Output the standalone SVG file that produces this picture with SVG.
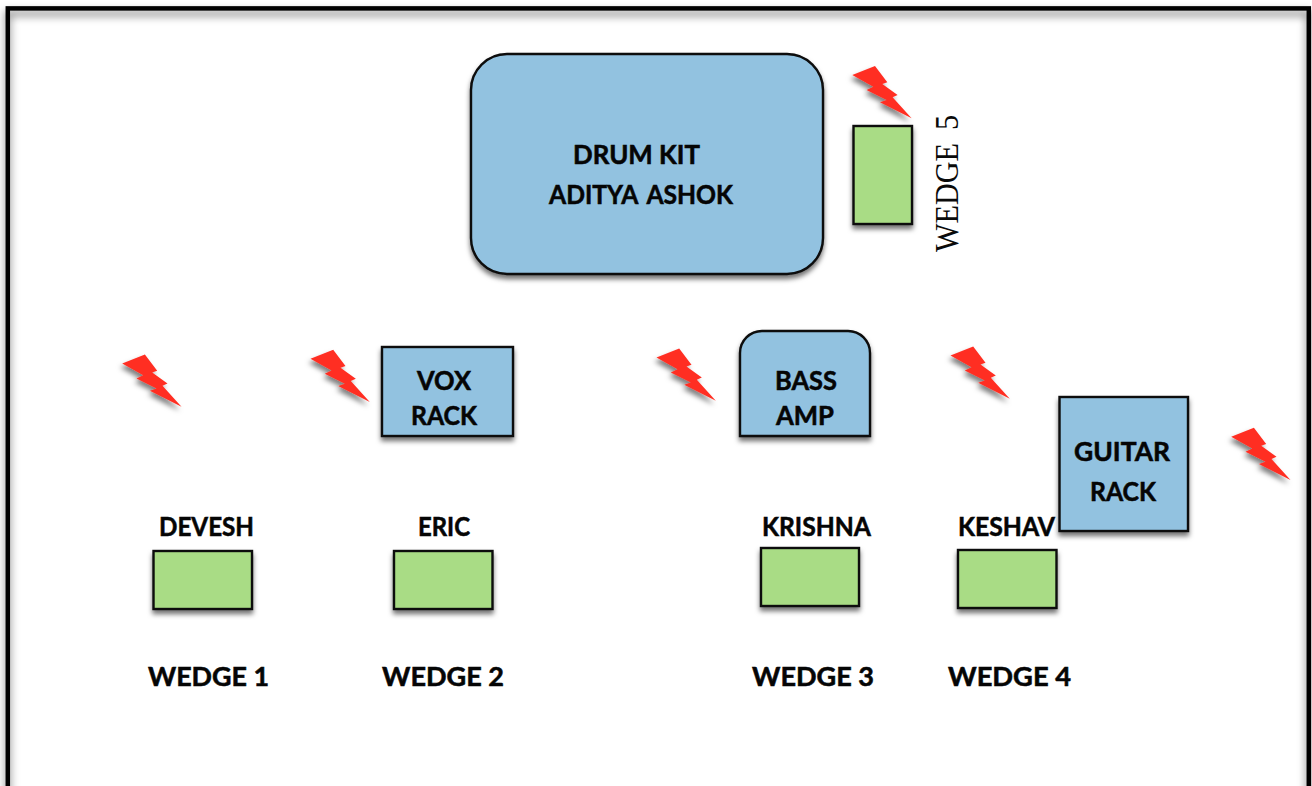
<svg xmlns="http://www.w3.org/2000/svg" width="1312" height="786" viewBox="0 0 1312 786">
<style>
.blue{fill:#92c2e0;stroke:#0a0a0a;stroke-width:2.4}
.green{fill:#a9dc85;stroke:#0a0a0a;stroke-width:2.4}
.t{font-family:"Lato","Liberation Sans",sans-serif;font-weight:700;font-size:26.5px;fill:#050505;stroke:#050505;stroke-width:0.55}
.s{font-family:"Liberation Serif",serif;font-size:33px;fill:#0a0a0a}
.bolt{fill:#ff2f24}
.frame{fill:none;stroke:#050505;stroke-width:4.5}
</style>
<defs>
<filter id="sh" x="-30%" y="-30%" width="160%" height="170%"><feDropShadow dx="0" dy="4" stdDeviation="2.5" flood-color="#000" flood-opacity="0.55"/></filter>
<filter id="shb" x="-30%" y="-30%" width="160%" height="170%"><feDropShadow dx="-2" dy="4" stdDeviation="2.5" flood-color="#000" flood-opacity="0.5"/></filter>
<filter id="shf" filterUnits="userSpaceOnUse" x="0" y="0" width="1312" height="900"><feDropShadow dx="0" dy="5" stdDeviation="4" flood-color="#000" flood-opacity="0.55"/></filter>
<polygon id="b" class="bolt" points="0,0 22.7,-9 35,7.3 30,9 45.3,20 40.3,22.3 59.3,43.3 27.7,27.3 34.3,25 14.3,15 21,11.7"/>
</defs>
<rect id="frame" class="frame" x="7.8" y="8.4" width="1301" height="830" filter="url(#shf)"/>
<g id="drum-kit"><rect class="blue" x="471" y="54" width="352" height="220" rx="36" filter="url(#sh)"/>
<text class="t" x="573" y="164" textLength="127" lengthAdjust="spacingAndGlyphs">DRUM KIT</text>
<text class="t" x="549" y="204" textLength="184" lengthAdjust="spacingAndGlyphs" word-spacing="4">ADITYA ASHOK</text></g>
<g id="wedge-5"><rect class="green" x="853.5" y="126" width="58.5" height="98" filter="url(#sh)"/>
<text class="s" transform="translate(958 252) rotate(-90)" textLength="137" lengthAdjust="spacingAndGlyphs" word-spacing="6">WEDGE 5</text></g>
<g id="vox-rack"><rect class="blue" x="382" y="347" width="131" height="89" filter="url(#sh)"/>
<text class="t" x="417" y="389.5" textLength="54" lengthAdjust="spacingAndGlyphs">VOX</text>
<text class="t" x="411" y="425" textLength="66" lengthAdjust="spacingAndGlyphs">RACK</text></g>
<g id="bass-amp"><path class="blue" d="M740 436V353a22 22 0 0 1 22-22h86a22 22 0 0 1 22 22v83z" filter="url(#sh)"/>
<text class="t" x="775" y="389.5" textLength="62" lengthAdjust="spacingAndGlyphs">BASS</text>
<text class="t" x="776" y="425" textLength="58" lengthAdjust="spacingAndGlyphs">AMP</text></g>
<g id="guitar-rack"><rect class="blue" x="1059.5" y="397" width="128.5" height="134" filter="url(#sh)"/>
<text class="t" x="1074" y="461" textLength="96" lengthAdjust="spacingAndGlyphs">GUITAR</text>
<text class="t" x="1090" y="501" textLength="66" lengthAdjust="spacingAndGlyphs">RACK</text></g>
<g id="wedge-1"><rect class="green" x="153.5" y="551" width="98.5" height="58" filter="url(#sh)"/>
<text class="t" x="159" y="536" textLength="95" lengthAdjust="spacingAndGlyphs">DEVESH</text>
<text class="t" x="148" y="686" textLength="121" lengthAdjust="spacingAndGlyphs">WEDGE 1</text></g>
<g id="wedge-2"><rect class="green" x="394" y="551" width="98.5" height="58" filter="url(#sh)"/>
<text class="t" x="418" y="536" textLength="52" lengthAdjust="spacingAndGlyphs">ERIC</text>
<text class="t" x="382" y="686" textLength="122" lengthAdjust="spacingAndGlyphs">WEDGE 2</text></g>
<g id="wedge-3"><rect class="green" x="761" y="548" width="98" height="58" filter="url(#sh)"/>
<text class="t" x="762" y="536" textLength="109" lengthAdjust="spacingAndGlyphs">KRISHNA</text>
<text class="t" x="752" y="686" textLength="122" lengthAdjust="spacingAndGlyphs">WEDGE 3</text></g>
<g id="wedge-4"><rect class="green" x="958" y="550" width="98.5" height="58" filter="url(#sh)"/>
<text class="t" x="958" y="536" textLength="97" lengthAdjust="spacingAndGlyphs">KESHAV</text>
<text class="t" x="948" y="686" textLength="123" lengthAdjust="spacingAndGlyphs">WEDGE 4</text></g>
<g id="bolts" filter="url(#shb)">
<use href="#b" x="852.3" y="75"/>
<use href="#b" x="122.2" y="363.5"/>
<use href="#b" x="310.5" y="358.8"/>
<use href="#b" x="656.5" y="357.5"/>
<use href="#b" x="950.5" y="355.5"/>
<use href="#b" x="1231.2" y="436.8"/>
</g>
</svg>
